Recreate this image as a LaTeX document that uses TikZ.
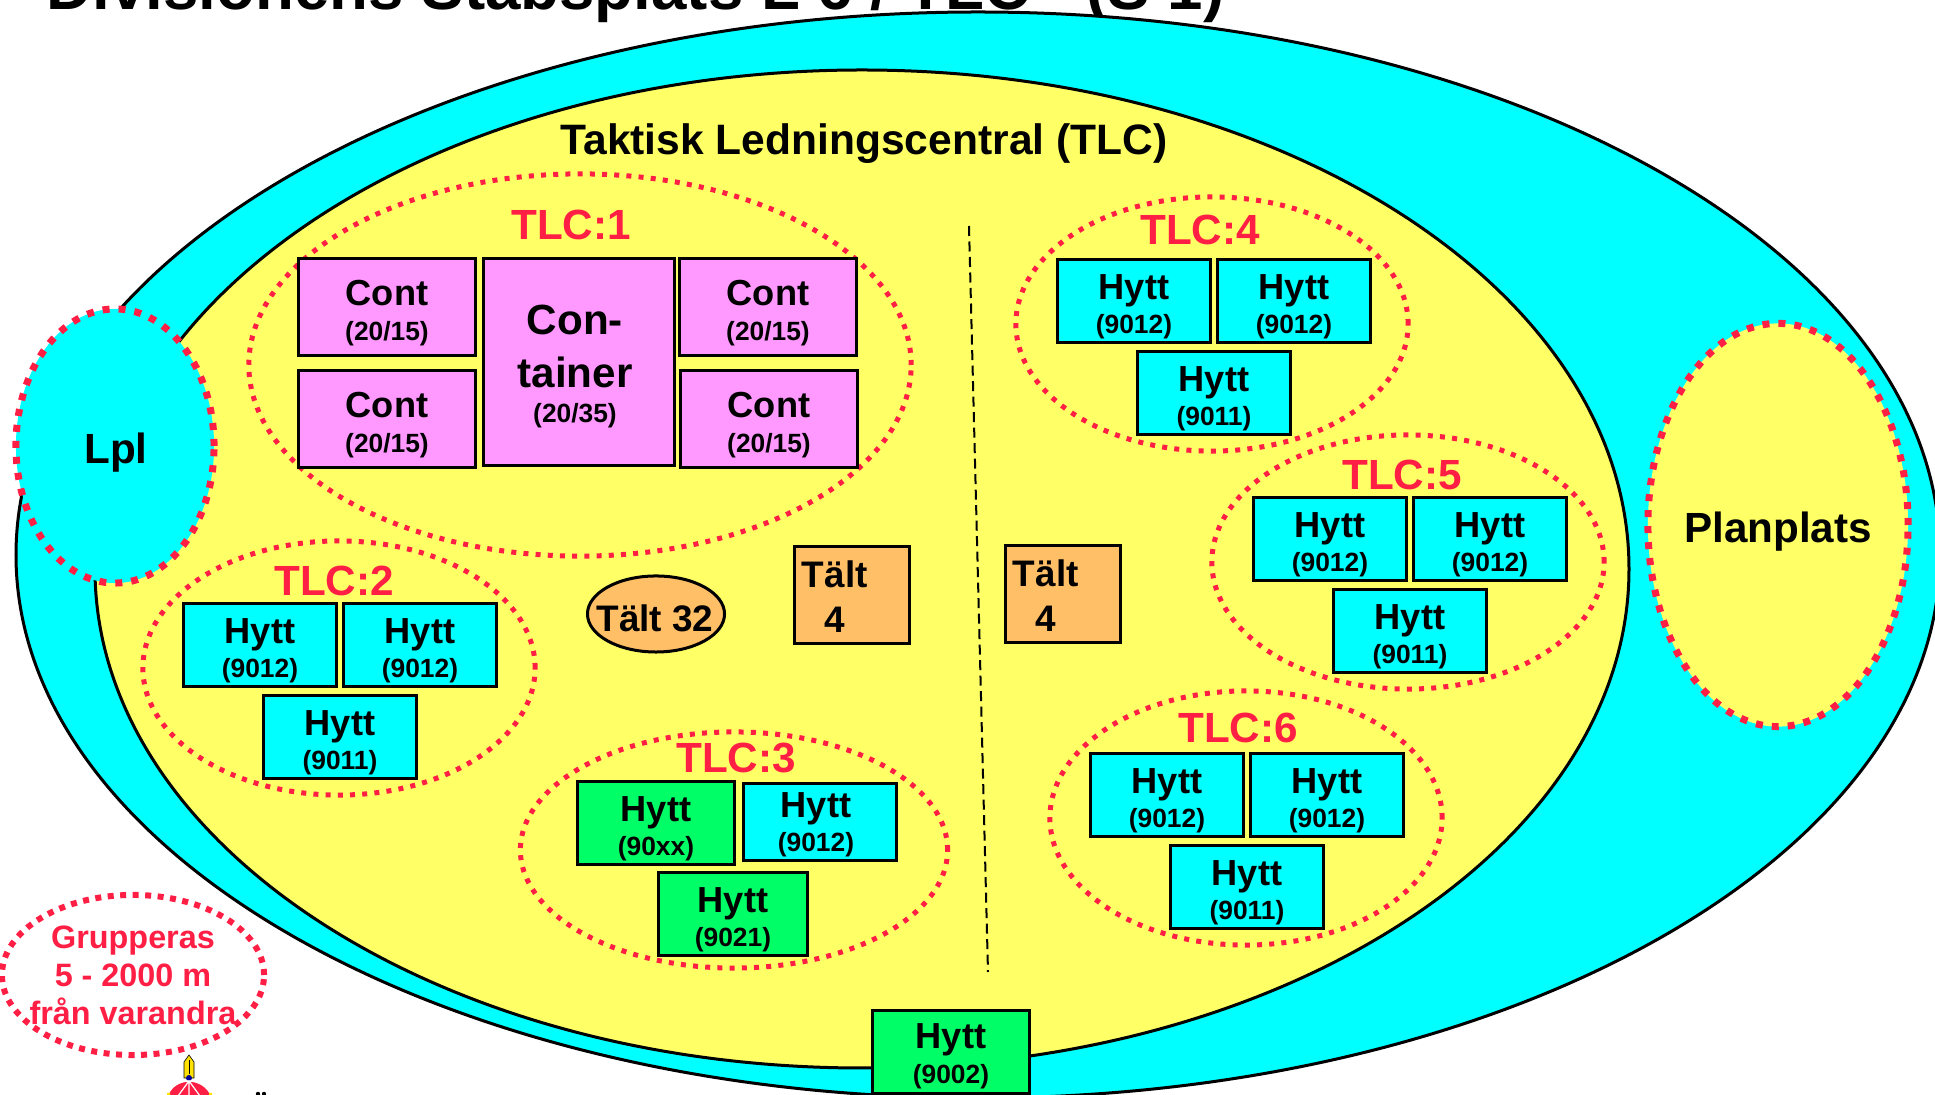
\documentclass[tikz,border=0pt]{standalone}
\usepackage{fontspec}
\setmainfont{Liberation Sans}
\usetikzlibrary{shapes.geometric}
\definecolor{myyellow}{rgb}{1,1,.4}
\definecolor{mycyan}{rgb}{0,1,1}
\definecolor{mygreen}{rgb}{0,1,.4}
\definecolor{mypink}{rgb}{1,.6,1}
\definecolor{myorange}{rgb}{1,.75,.4}
\definecolor{myred}{rgb}{1,.12,.27}
\newcommand{\subtxt}[1]{{\fontsize{7.5}{9}\selectfont\smash{#1}}}
\newcommand{\hytt}[1]{\rule{0pt}{8.8pt}Hytt\\\subtxt{#1}}
\newcommand{\cont}[1]{\rule{0pt}{9.2pt}Cont\\\subtxt{#1}}
\newcommand{\talt}{\rule{0pt}{8.8pt}Tält\\\hspace*{.23cm}4}
\tikzset{
  box/.style={draw=black,line width=.03cm,align=center,inner sep=0pt},
  hyttbox/.style={box,minimum width=1.52cm,minimum height=.82cm,
    font=\fontsize{10.3}{9.9}\selectfont\bfseries},
  contbox/.style={box,fill=mypink,minimum width=1.76cm,minimum height=.96cm,
    font=\fontsize{10.3}{9.9}\selectfont\bfseries},
  taltbox/.style={box,fill=myorange,minimum width=1.14cm,minimum height=.97cm,
    text width=1.0cm,align=left,font=\fontsize{10.5}{12.8}\selectfont\bfseries},
  ring/.style={ellipse,draw=myred,line width=.05cm,dash pattern=on .05cm off .072cm,inner sep=0pt},
  bigring/.style={ring,line width=.07cm,dash pattern=on .07cm off .09cm},
  tlclabel/.style={text=myred,anchor=base,inner sep=0pt,font=\fontsize{12}{14}\selectfont\bfseries},
  biglabel/.style={anchor=base,inner sep=0pt,font=\fontsize{12}{14}\selectfont\bfseries}
}
\begin{document}
\begin{tikzpicture}[x=.01cm,y=-.01cm]
    \useasboundingbox (0,0) rectangle (1935,1095);
    \clip (0,0) rectangle (1935,1095); % Title and big ellipses run off the page

    \fill[white] (0,0) rectangle (1935,1095);
    \node[anchor=base west,inner sep=0pt,font=\fontsize{18.1}{20}\selectfont\bfseries] (Title) at (46,10)
        {Divisionens Stabsplats L 6 / TLC \hspace{.39cm}(S 1)};

    \draw[line width=.03cm,fill=mycyan] (978,555) ellipse (962 and 543);
    \draw[line width=.03cm,fill=myyellow] (862,569) ellipse (767 and 499);
    \node[biglabel,font=\fontsize{12.1}{14}\selectfont\bfseries] (Tlc) at (864,155) {Taktisk Ledningscentral (TLC)};

    \node[bigring,fill=mycyan,minimum width=1.98cm,minimum height=2.74cm] (Lpl) at (115,446) {};
    \node[biglabel] (LplText) at (116,464) {Lpl};
    \node[bigring,fill=myyellow,minimum width=2.6cm,minimum height=4.03cm] (Plan) at (1778,525) {};
    \node[biglabel] (PlanText) at (1778,543) {Planplats};

    \coordinate (DivTop) at (969,226);
    \coordinate (DivBot) at (988,972);
    \draw[line width=.02cm,dash pattern=on .1cm off .055cm] (DivTop) -- (DivBot);

    % TLC:1
    \node[ring,minimum width=6.62cm,minimum height=3.82cm] (RingOne) at (580,365) {};
    \node[tlclabel] (LabelOne) at (571,240) {TLC:1};
    \node[contbox] (ContA) at (387,307) {\cont{(20/15)}};
    \node[contbox] (ContB) at (387,419) {\cont{(20/15)}};
    \node[contbox] (ContC) at (768,307) {\cont{(20/15)}};
    \node[contbox] (ContD) at (769,419) {\cont{(20/15)}};
    \node[contbox,minimum width=1.9cm,minimum height=2.06cm,
      font=\fontsize{12}{14.8}\selectfont\bfseries] (Cont) at (579,362)
      {\rule{0pt}{9.45pt}\hspace*{-.08cm}Con-\\\hspace*{-.08cm}tainer\\[-4.8pt]\hspace*{-.08cm}\subtxt{(20/35)}};

    % the four groups of three
    \foreach \tag/\num/\ringx/\ringy/\lx/\ly/\bx/\by in {
        Two/2/339/668/334/596/183/603,
        Four/4/1212/324/1200/245/1057/259,
        Five/5/1408/562/1402/490/1253/497,
        Six/6/1246/818/1238/743/1090/753}{
      \node[ring,minimum width=3.92cm,minimum height=2.54cm] (Ring\tag) at (\ringx,\ringy) {};
      \node[tlclabel] (Label\tag) at (\lx,\ly) {TLC:\num};
      \node[hyttbox,fill=mycyan] (\tag a) at (\bx+77,\by+42) {\hytt{(9012)}};
      \node[hyttbox,fill=mycyan] (\tag b) at (\bx+237,\by+42) {\hytt{(9012)}};
      \node[hyttbox,fill=mycyan] (\tag c) at (\bx+157,\by+134) {\hytt{(9011)}};
    }

    % TLC:3
    \node[ring,minimum width=4.27cm,minimum height=2.36cm] (RingThree) at (734,850) {};
    \node[tlclabel] (LabelThree) at (736,773) {TLC:3};
    \node[hyttbox,fill=mygreen,minimum width=1.56cm] (Threea) at (656,823) {\hytt{(90xx)}};
    \node[hyttbox,fill=mycyan,minimum width=1.53cm,minimum height=.77cm] (Threeb) at (820,822) {\hspace*{-.08cm}Hytt\\\hspace*{-.08cm}\subtxt{(9012)}};
    \node[hyttbox,fill=mygreen,minimum width=1.49cm] (Threec) at (733,914) {\hytt{(9021)}};

    % tents
    \node[draw=black,line width=.03cm,ellipse,fill=myorange,minimum width=1.37cm,minimum height=.76cm,inner sep=0pt] (TaltRound) at (656,614) {};
    \node[anchor=base,inner sep=0pt,font=\fontsize{10.5}{12}\selectfont\bfseries] (TaltRoundText) at (655,632) {Tält 32};
    \node[taltbox] (TaltA) at (852,595) {\talt};
    \node[taltbox] (TaltB) at (1063,594) {\talt};

    \node[hyttbox,fill=mygreen,minimum width=1.56cm] (Stab) at (951,1052) {\rule{0pt}{7.9pt}Hytt\\\subtxt{(9002)}};

    \node[ring,line width=.06cm,dash pattern=on .06cm off .065cm,minimum width=2.62cm,minimum height=1.6cm] (Grupp) at (133,975) {};
    \node[inner sep=0pt,text=myred,align=center,font=\fontsize{9.2}{10.8}\selectfont\bfseries] (GruppText) at (133,975)
      {Grupperas\\5 - 2000 m\\från varandra};

    % crown and sword at the foot
    \filldraw[draw=black,line width=.006cm,fill=yellow!85!orange] (184,1078) -- (184,1062) -- (189,1055) -- (194,1062) -- (194,1078) -- cycle;
    \draw[line width=.008cm] (189,1060) -- (189,1074);
    \fill[blue!60!black] (189,1078) circle (3);
    \filldraw[draw=white,line width=.015cm,fill=myred] (167,1097) .. controls (170,1086) and (180,1081) .. (189,1081)
        .. controls (198,1081) and (208,1086) .. (212,1097) -- cycle;
    \draw[white,line width=.012cm] (189,1081) -- (178,1096) (189,1081) -- (189,1096) (189,1081) -- (200,1096);
    \fill[yellow!85!orange] (167,1093) rectangle (170,1096) (209,1093) rectangle (212,1096);
    \fill (258,1094) circle (2.2) (264,1094) circle (2.2);
\end{tikzpicture}
\end{document}
